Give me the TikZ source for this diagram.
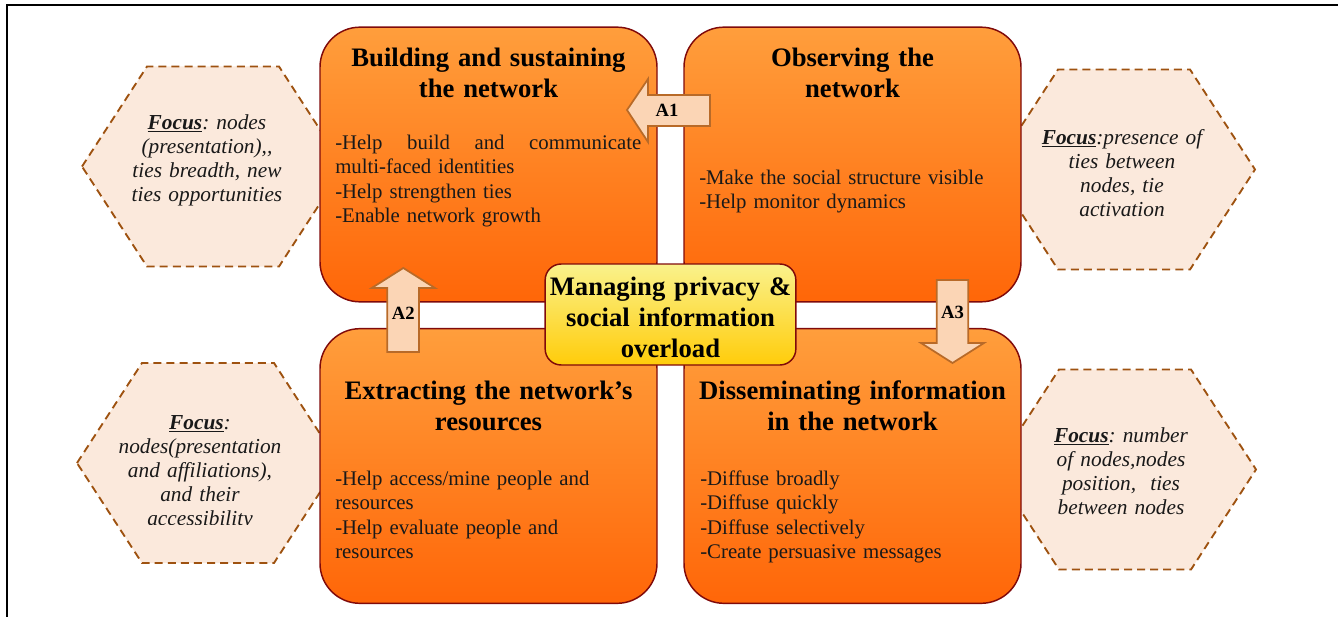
\documentclass[tikz,border=0pt]{standalone}
\usepackage{fontspec}
\setmainfont{Liberation Serif}
\usepackage{xcolor}
\usepackage{tikz}

\definecolor{boxtop}{RGB}{255,158,60}
\definecolor{boxbot}{RGB}{255,102,8}
\definecolor{boxline}{RGB}{128,10,10}
\definecolor{hubtop}{RGB}{250,242,140}
\definecolor{hubbot}{RGB}{255,204,10}
\definecolor{hexfill}{RGB}{251,233,220}
\definecolor{hexline}{RGB}{158,82,16}
\definecolor{arrfill}{RGB}{251,213,181}
\definecolor{arrline}{RGB}{184,106,40}

\frenchspacing
% thick underline under the bold word
\newlength{\focuslen}
\newcommand{\focusword}{\settowidth{\focuslen}{\textbf{Focus}}\textbf{Focus}\hspace{-\focuslen}\rule[-2.6pt]{\focuslen}{1.2pt}}

\begin{document}
\begin{tikzpicture}[
					x=0.75pt, y=-0.75pt,
					taskbox/.style={draw=boxline,line width=1.1pt,rounded corners=30pt,top color=boxtop,bottom color=boxbot,minimum width=252.75pt,minimum height=206pt},
					hubbox/.style={draw=boxline,line width=1.1pt,rounded corners=12pt,top color=hubtop,bottom color=hubbot,minimum width=188pt,minimum height=75.75pt},
					headtext/.style={anchor=base,text width=240pt,align=center,inner sep=0pt,font=\fontsize{20}{23.25}\selectfont\bfseries},
					itemtext/.style={anchor=base west,text width=229.5pt,align=left,inner sep=0pt,text=black!90,font=\fontsize{15.6}{18.4}\selectfont},
					focushex/.style={draw=hexline,fill=hexfill,line width=1.4pt,dash pattern=on 6pt off 3.8pt},
					focustext/.style={anchor=base,text width=150pt,align=center,inner sep=0pt,text=black!90,font=\fontsize{16}{18}\selectfont\itshape},
					blockarrow/.style={draw=arrline,fill=arrfill,line width=1.3pt,line join=miter},
					alabel/.style={inner sep=0pt,font=\fontsize{14}{16}\selectfont\bfseries}
					]
					\useasboundingbox (0,0) rectangle (1338,617);
					\draw[line width=1.5pt] (7,617) -- (7,5) -- (1338,5);

					% focus hexagons, partly hidden by the boxes
					\foreach \hx/\hy in {213/166.5,208/463,1124/169.5,1125/469.5}{
						\draw[focushex] (\hx-131,\hy) -- (\hx-66,\hy-100) -- (\hx+66,\hy-100) -- (\hx+131,\hy) -- (\hx+66,\hy+100) -- (\hx-66,\hy+100) -- cycle;
					}
					\node[focustext] (fbuild) at (207,129) {\focusword: nodes\\(presentation),{},\\ties breadth, new\\ties opportunities};
					\node[focustext] (fobserve) at (1122,144) {\focusword:presence of\\ties between\\nodes, tie\\activation};
					\node[focustext] (fspread) at (1121,442) {\focusword: number\\of nodes,nodes\\position,\ \ ties\\between nodes};
					\begin{scope}
						\clip (90,395) rectangle (320,524);
						\node[focustext] (fextract) at (200,429) {\focusword:\\nodes(presentation\\and affiliations),\\and their\\accessibility};
					\end{scope}

					% the four activity boxes
					\node[taskbox] (build) at (488.5,164.5) {};
					\node[taskbox] (observe) at (852.5,164.5) {};
					\node[taskbox] (extract) at (488.5,466) {};
					\node[taskbox] (spread) at (852.5,466) {};

					\node[headtext] (buildh) at (488.5,67) {Building and sustaining\\the network};
					\node[headtext] (observeh) at (852.5,67) {Observing the\\network};
					\node[headtext] (extracth) at (488.5,399) {Extracting the network’s\\resources};
					\node[headtext] (spreadh) at (852.5,399.5) {Disseminating information\\in the network};

					\node[itemtext] (buildi) at (335,149) {\hbox to 229.5pt{-Help\hfill build\hfill and\hfill communicate}\\multi-faced identities\\-Help strengthen ties\\-Enable network growth};
					\node[itemtext] (observei) at (699,184) {-Make the social structure visible\\-Help monitor dynamics};
					\node[itemtext] (extracti) at (335,485) {-Help access/mine people and\\resources\\-Help evaluate people and\\resources};
					\node[itemtext] (spreadi) at (700,485) {-Diffuse broadly\\-Diffuse quickly\\-Diffuse selectively\\-Create persuasive messages};

					\node[hubbox] (privacy) at (670.5,314.5) {};
					\node[headtext] (privacyt) at (670.5,295) {Managing privacy \&\\social information\\overload};

					% block arrows between the boxes
					\draw[blockarrow] (627,110) -- (648,79) -- (648,95) -- (710,95) -- (710,126) -- (648,126) -- (648,142) -- cycle;
					\node[alabel] (a1) at (667,110) {A1};
					\draw[blockarrow] (403.3,268) -- (435,288) -- (419,288) -- (419,352) -- (387.3,352) -- (387.3,288) -- (371.7,288) -- cycle;
					\node[alabel] (a2) at (403.3,313) {A2};
					\draw[blockarrow] (952.5,363) -- (984,343) -- (968.3,343) -- (968.3,280) -- (936.7,280) -- (936.7,343) -- (921,343) -- cycle;
					\node[alabel] (a3) at (952.5,312) {A3};
				\end{tikzpicture}
\end{document}
